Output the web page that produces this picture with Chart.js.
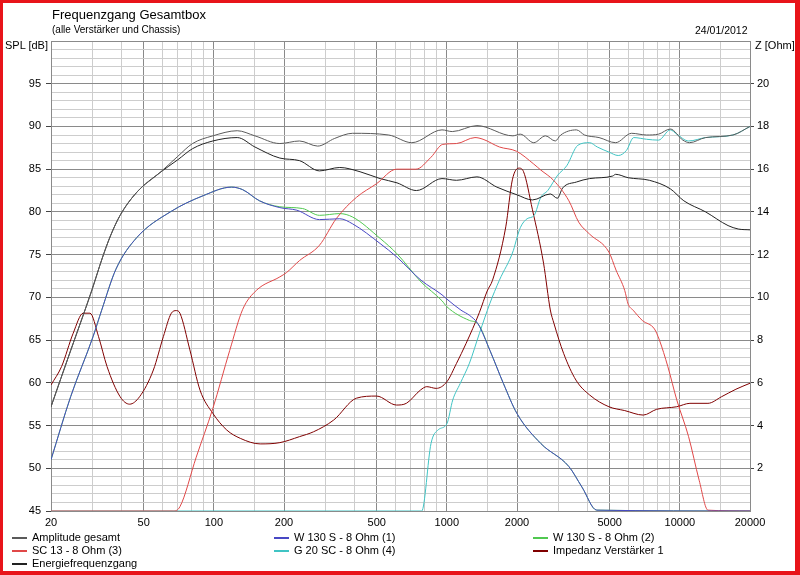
<!DOCTYPE html>
<html>
<head>
<meta charset="utf-8">
<script src="https://cdn.jsdelivr.net/npm/chart.js@4.4.0/dist/chart.umd.min.js"></script>
<style>
  html, body { margin: 0; padding: 0; background: #fff; }
  #wrap { position: relative; width: 800px; height: 575px; overflow: hidden; font-family: "Liberation Sans", Arial, sans-serif; color: #000; }
  #frame { position: absolute; left: 0; top: 0; width: 800px; height: 575px; box-sizing: border-box;
           border-style: solid; border-color: #e8141a; border-width: 3px 5px 4px 3px; pointer-events: none; }
  .txt { position: absolute; white-space: nowrap; line-height: 1; }
  .leg { position: absolute; white-space: nowrap; font-size: 11px; line-height: 1; }
  .leg span { position: absolute; top: 5px; width: 15px; height: 2px; }
</style>
</head>
<body>
<div id="wrap">
  <canvas id="chart" width="800" height="575"></canvas>
  <div class="txt" style="left:52px;top:8px;font-size:13px">Frequenzgang Gesamtbox</div>
  <div class="txt" style="left:52px;top:25px;font-size:10px">(alle Verstärker und Chassis)</div>
  <div class="txt" style="left:695px;top:25px;font-size:10.5px">24/01/2012</div>
  <div class="txt" style="left:5px;top:40px;font-size:11px">SPL [dB]</div>
  <div class="txt" style="left:755px;top:40px;font-size:11px">Z [Ohm]</div>
  <div id="legend"></div>
  <div id="frame"></div>
</div>
<script>
// frequency grid and labels
const gridFreqs = [20, 30, 40, 50, 60, 70, 80, 90, 100, 150, 200, 300, 400, 500, 600, 700, 800, 900,
  1000, 1500, 2000, 3000, 4000, 5000, 6000, 7000, 8000, 9000, 10000, 15000, 20000];
const labelFreqs = [20, 50, 100, 200, 500, 1000, 2000, 5000, 10000, 20000];

// Amplitude gesamt
const ampF = [20, 24.3, 27.4, 30, 33.2, 36, 39.6, 46.7, 58.7, 70, 81, 99, 126, 150, 192, 233, 279, 330, 394, 563, 707,
  953, 1055, 1346, 1920, 2065, 2360, 2650, 2920, 3080, 3600, 3900, 4500, 5300, 6200, 7200, 8100, 9100, 10300,
  11000, 12900, 16900, 20000];
const ampDb = [57.2, 63.8, 67.8, 70.9, 74.6, 77.2, 79.6, 82.3, 84.6, 86.5, 88.0, 88.9, 89.5, 88.9, 88.0, 88.3, 87.7, 88.6, 89.2, 89.0, 88.1,
  89.6, 89.4, 90.1, 88.9, 89.1, 88.1, 88.9, 88.3, 89.0, 89.6, 89.0, 88.7, 88.1, 89.2, 89.0, 89.1, 89.7, 88.4,
  88.1, 88.7, 89.0, 90.0];

// W 130 S - 8 Ohm (1)
const w1F = [20, 24.3, 30.3, 33, 38, 46.7, 65, 90, 119, 133, 157, 192, 227, 284, 347, 394, 517, 611, 775, 953,
  1000, 1150, 1250, 1360, 1530, 1750, 2000, 2530, 3340, 3800, 4400, 20000];
const w1Db = [51.0, 58.4, 65.4, 68.5, 73.3, 77.0, 80.0, 81.9, 82.9, 82.6, 81.3, 80.5, 80.2, 79.1, 79.2, 78.6, 76.3, 74.7, 72.0, 70.3,
  69.8, 68.5, 67.9, 66.9, 63.8, 59.9, 56.4, 52.9, 50.2, 47.8, 45.1, 45.0];

// W 130 S - 8 Ohm (2)
const w2F = [20, 24.3, 30.3, 33, 38, 46.7, 65, 90, 119, 133, 157, 192, 240, 284, 347, 394, 517, 611, 775, 953,
  1000, 1250, 1360, 1530, 1750, 2000, 2530, 3340, 3800, 4400, 20000];
const w2Db = [51.0, 58.4, 65.4, 68.5, 73.3, 77.0, 80.0, 81.9, 82.9, 82.6, 81.3, 80.6, 80.4, 79.6, 79.8, 79.4, 76.9, 75.1, 71.8, 69.6,
  68.9, 67.3, 66.9, 63.8, 59.9, 56.4, 52.9, 50.2, 47.8, 45.1, 45.0];

// SC 13 - 8 Ohm (3)
const scF = [20, 66.7, 71.5, 84, 99, 117, 133, 152, 192, 205, 233, 284, 335, 409, 499, 608, 737, 855, 960, 1100,
  1320, 1430, 1680, 1990, 2360, 2530, 2870, 3340, 3680, 4100, 4960, 5320, 5800, 6000, 6300, 6900, 7780, 8170,
  8880, 9700, 10900, 12100, 13200, 20000];
const scDb = [45.0, 45.0, 45.5, 51.3, 57.0, 63.8, 68.6, 70.8, 72.4, 72.9, 74.3, 76.1, 79.2, 81.7, 83.3, 85.0, 85.0, 86.4, 87.9, 88.0,
  88.7, 88.5, 87.6, 87.1, 85.6, 84.9, 83.7, 81.3, 78.8, 77.4, 75.3, 73.2, 70.8, 69.2, 68.5, 67.3, 66.3, 65.0,
  61.9, 58.0, 53.7, 48.6, 45.1, 45.0];

// G 20 SC - 8 Ohm (4)
const gF = [20, 780, 855, 918, 1000, 1060, 1140, 1250, 1380, 1530, 1680, 1930, 2000, 2070, 2210, 2370, 2530, 2710,
  2990, 3270, 3650, 4100, 4420, 4960, 5440, 5900, 6340, 7200, 8100, 9100, 9700, 10900, 12900, 16900, 20000];
const gDb = [45.0, 45.0, 52.9, 54.5, 55.2, 58.0, 59.9, 62.3, 65.8, 69.3, 72.0, 75.5, 77.0, 78.2, 79.2, 79.6, 81.7, 82.5,
  84.3, 85.4, 87.8, 88.1, 87.6, 87.0, 86.6, 87.2, 88.7, 88.5, 88.4, 89.6, 89.1, 88.3, 88.7, 89.0, 90.0];

// Impedanz Verstärker 1 (Ohm)
const impF = [20, 22.2, 24.9, 27.5, 29.4, 32, 34.8, 39.6, 43.5, 48, 55, 60.7, 65.7, 69, 71.5, 78.9, 87.2, 99, 113.6,
  129.9, 158, 192, 233, 268, 327, 409, 499, 608, 670, 770, 820, 900, 1000, 1100, 1210, 1380, 1490, 1570, 1790,
  1910, 2040, 2130, 2330, 2600, 2780, 2880, 3170, 3580, 4100, 4960, 5800, 6960, 7950, 9700, 11050, 13200,
  15100, 17400, 20000];
const impOhm = [5.9, 6.76, 8.32, 9.26, 9.26, 8.16, 6.76, 5.35, 5.0, 5.35, 6.6, 8.16, 9.26, 9.38, 9.26, 7.54, 5.66, 4.57, 3.79,
  3.40, 3.14, 3.20, 3.48, 3.71, 4.26, 5.28, 5.38, 4.96, 5.04, 5.66, 5.82, 5.74, 6.05, 6.91, 7.85, 9.3, 10.3, 10.8, 13.3,
  15.5, 16.05, 15.9, 14.1, 11.6, 9.41, 8.79, 7.38, 6.13, 5.43, 4.88, 4.70, 4.49, 4.76, 4.88, 5.04, 5.04,
  5.35, 5.70, 5.98];

// Energiefrequenzgang
const enF = [20, 24.3, 27.4, 30, 33.2, 36, 39.6, 46.7, 58.7, 70, 81, 99, 126, 150, 192, 233, 284, 347, 424, 517, 611,
  740, 953, 1100, 1346, 1640, 2000, 2330, 2780, 2980, 3140, 3600, 4100, 5150, 5300, 6000, 7400, 9100, 10400,
  12900, 16100, 17800, 20000];
const enDb = [57.2, 63.8, 67.8, 70.9, 74.6, 77.2, 79.6, 82.3, 84.6, 86.1, 87.4, 88.3, 88.7, 87.6, 86.3, 86.0, 84.8, 85.2, 84.7, 83.9, 83.4,
  82.5, 83.9, 83.7, 84.1, 82.9, 82.0, 81.4, 82.1, 81.6, 82.8, 83.5, 83.9, 84.2, 84.4, 84.0, 83.7, 82.7, 81.3,
  80.0, 78.4, 78.0, 77.9];

const dark = '#8a8a8a';
const light = '#cdcdcd';

function pts(fs, vs) {
  return fs.map((f, i) => ({ x: f, y: vs[i] }));
}

function line(label, fs, vs, color, order, axis) {
  return {
    label: label,
    data: pts(fs, vs),
    borderColor: color,
    backgroundColor: color,
    borderWidth: 1,
    pointRadius: 0,
    cubicInterpolationMode: 'monotone',
    order: order,
    yAxisID: axis || 'y'
  };
}

Chart.defaults.font.family = '"Liberation Sans", Arial, sans-serif';
Chart.defaults.font.size = 11;
Chart.defaults.color = '#000';

const chart = new Chart(document.getElementById('chart'), {
  type: 'line',
  data: {
    datasets: [
      line('Amplitude gesamt', ampF, ampDb, '#5a5a5a', 0),
      line('W 130 S - 8 Ohm (1)', w1F, w1Db, '#4848c4', 1),
      line('W 130 S - 8 Ohm (2)', w2F, w2Db, '#50c850', 4),
      line('SC 13 - 8 Ohm (3)', scF, scDb, '#e04848', 2),
      line('G 20 SC - 8 Ohm (4)', gF, gDb, '#40c4c4', 5),
      line('Impedanz Verstärker 1', impF, impOhm, '#800000', 6, 'z'),
      line('Energiefrequenzgang', enF, enDb, '#222222', 3)
    ]
  },
  options: {
    responsive: false,
    animation: false,
    layout: { padding: { top: 41, left: 0, right: 0, bottom: 0 } },
    plugins: { legend: { display: false }, tooltip: { enabled: false } },
    scales: {
      x: {
        type: 'logarithmic',
        min: 20,
        max: 20000,
        afterBuildTicks: s => { s.ticks = gridFreqs.map(v => ({ value: v })); },
        afterFit: s => { s.height = 64; },
        ticks: {
          autoSkip: false,
          maxRotation: 0,
          padding: 5,
          callback: v => labelFreqs.includes(v) ? String(v) : ''
        },
        grid: {
          drawTicks: false,
          color: c => labelFreqs.includes(c.tick.value) ? dark : light
        },
        border: { color: dark }
      },
      y: {
        position: 'left',
        min: 45,
        max: 100,
        afterFit: s => { s.width = 51; },
        ticks: {
          stepSize: 1,
          autoSkip: false,
          padding: 5,
          callback: v => (v % 5 === 0 && v < 100) ? String(v) : ''
        },
        grid: {
          tickLength: 5,
          color: c => c.tick.value % 5 === 0 ? dark : light,
          tickColor: c => (c.tick.value % 5 === 0 && c.tick.value < 100) ? '#444' : 'rgba(0,0,0,0)'
        },
        border: { color: dark }
      },
      z: {
        position: 'right',
        min: 0,
        max: 22,
        afterFit: s => { s.width = 50; },
        ticks: {
          stepSize: 2,
          autoSkip: false,
          padding: 3,
          callback: v => (v > 0 && v < 22) ? String(v) : ''
        },
        grid: {
          drawOnChartArea: false,
          tickLength: 4,
          tickColor: c => (c.tick.value > 0 && c.tick.value < 22) ? '#444' : 'rgba(0,0,0,0)'
        },
        border: { color: dark }
      }
    }
  }
});

// legend in three columns, like the original program
const legCols = [12, 274, 533];
const legRows = [532, 545, 558];
const legend = document.getElementById('legend');
chart.data.datasets.forEach((ds, i) => {
  const d = document.createElement('div');
  d.className = 'leg';
  d.style.left = legCols[i % 3] + 'px';
  d.style.top = legRows[Math.floor(i / 3)] + 'px';
  d.style.paddingLeft = '20px';
  d.innerHTML = '<span style="left:0;background:' + ds.borderColor + '"></span>' + ds.label;
  legend.appendChild(d);
});
</script>
</body>
</html>
